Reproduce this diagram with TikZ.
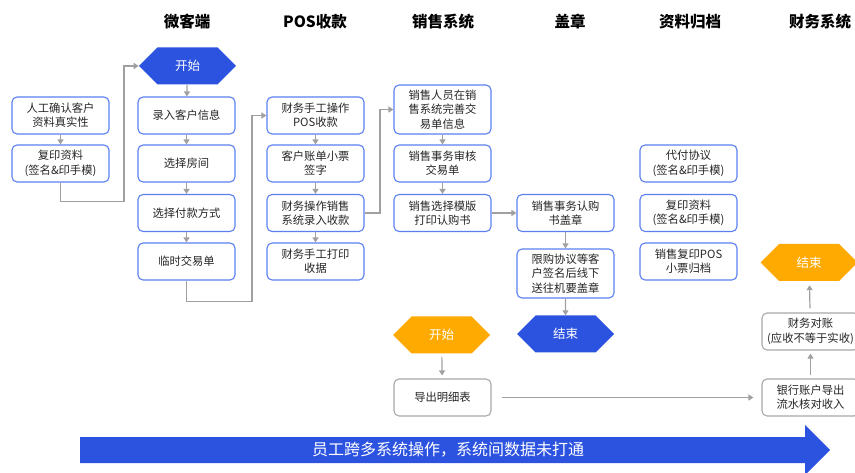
\documentclass[tikz,border=0pt]{standalone}
\usepackage{fontspec}
\setmainfont{Noto Sans CJK SC}
\usetikzlibrary{shapes.symbols,arrows.meta}
\definecolor{bb}{HTML}{5B7FF0}
\definecolor{bf}{HTML}{2C53E0}
\definecolor{og}{HTML}{FFAA00}
\definecolor{ln}{HTML}{A0A0A0}
\definecolor{gb}{HTML}{A8A8A8}
\definecolor{tx}{HTML}{262626}
\tikzset{
  box/.style={draw=bb, line width=1.1pt, rounded corners=5pt, fill=white,
    minimum width=97pt, minimum height=37pt, align=center, text=tx,
    font=\fontsize{11.3}{14.3}\selectfont, inner sep=2pt},
  tallbox/.style={box, minimum height=49pt},
  gbox/.style={box, draw=gb},
  hex/.style={signal, signal to=east and west, signal pointer angle=90,
    minimum width=97pt, minimum height=37pt, inner sep=0pt, text=white,
    font=\fontsize{12.5}{15}\selectfont},
  hexb/.style={hex, fill=bf},
  hexo/.style={hex, fill=og},
  hdr/.style={font=\bfseries\fontsize{15.5}{18}\selectfont, text=black},
  conn/.style={draw=ln, line width=1.2pt, -{Triangle[width=6pt,length=5pt]}},
}
\begin{document}
\begin{tikzpicture}[x=1pt,y=-1pt]
\useasboundingbox (0,0) rectangle (855,473);
\clip (0,0) rectangle (855,473);
% headers
\node[hdr] (h1) at (187,22) {微客端};
\node[hdr] (h2) at (315,22) {POS收款};
\node[hdr] (h3) at (443,22) {销售系统};
\node[hdr] (h4) at (570,22) {盖章};
\node[hdr] (h5) at (690,22) {资料归档};
\node[hdr] (h6) at (820,22) {财务系统};
% left column
\node[box] (l1) at (60.5,115.5) {人工确认客户\\资料真实性};
\node[box] (l2) at (60.5,163.5) {复印资料\\(签名\&印手模)};
% client column
\node[hexb] (st) at (187.5,66) {开始};
\node[box] (c1) at (186.5,115.5) {录入客户信息};
\node[box] (c2) at (186.5,163.5) {选择房间};
\node[box] (c3) at (186.5,213) {选择付款方式};
\node[box] (c4) at (186.5,261.5) {临时交易单};
% POS column
\node[box] (p1) at (315.5,115.5) {财务手工操作\\POS收款};
\node[box] (p2) at (315.5,163.5) {客户账单小票\\签字};
\node[box] (p3) at (315.5,213) {财务操作销售\\系统录入收款};
\node[box] (p4) at (315.5,261.5) {财务手工打印\\收据};
% sales column
\node[tallbox] (s1) at (442.5,109.5) {销售人员在销\\售系统完善交\\易单信息};
\node[box] (s2) at (442.5,163.5) {销售事务审核\\交易单};
\node[box] (s3) at (442.5,213) {销售选择模版\\打印认购书};
% seal column
\node[box] (g1) at (565.5,213) {销售事务认购\\书盖章};
\node[tallbox] (g2) at (565.5,273.5) {限购协议等客\\户签名后线下\\送往机要盖章};
\node[hexb] (e1) at (565.5,334) {结束};
% archive column
\node[box] (a1) at (688.5,163.5) {代付协议\\(签名\&印手模)};
\node[box] (a2) at (688.5,213) {复印资料\\(签名\&印手模)};
\node[box] (a3) at (688.5,261.5) {销售复印POS\\小票归档};
% finance
\node[hexo] (st2) at (441.5,335) {开始};
\node[gbox] (ex) at (442.5,397.5) {导出明细表};
\node[gbox] (bk) at (810.5,397.5) {银行账户导出\\流水核对收入};
\node[gbox] (rc) at (810.5,331.5) {财务对账\\(应收不等于实收)};
\node[hexo] (e2) at (809,262.5) {结束};
% connectors
\draw[conn] (l1) -- (l2);
\draw[conn] (l2.south) -- ++(0,19) -| (124,66) -- (st.west);
\draw[conn] (st) -- (c1);
\draw[conn] (c1) -- (c2);
\draw[conn] (c2) -- (c3);
\draw[conn] (c3) -- (c4);
\draw[conn] (c4.south) -- ++(0,21) -| (252,115.5) -- (p1.west);
\draw[conn] (p1) -- (p2);
\draw[conn] (p2) -- (p3);
\draw[conn] (p3) -- (p4);
\draw[conn] (p3.east) -- (380,213) |- (s1.west);
\draw[conn] (s1) -- (s2);
\draw[conn] (s2) -- (s3);
\draw[conn] (s3) -- (g1);
\draw[conn] (g1) -- (g2);
\draw[conn] (g2) -- (e1);
\draw[conn, shorten <=3pt, shorten >=3pt] (st2) -- (ex);
\draw[conn, shorten <=10pt, shorten >=8pt] (ex) -- (bk);
\draw[conn, shorten <=3pt, shorten >=3pt] (bk) -- (rc);
\draw[conn, shorten <=4pt, shorten >=4pt] (rc) -- (e2);
% bottom arrow
\fill[bf] (80,437) -- (805,437) -- (805,425) -- (830,450) -- (805,475) -- (805,463) -- (80,463) -- cycle;
\node[text=white, font=\fontsize{16}{18}\selectfont] (msg) at (448,450) {员工跨多系统操作，系统间数据未打通};
\end{tikzpicture}
\end{document}
